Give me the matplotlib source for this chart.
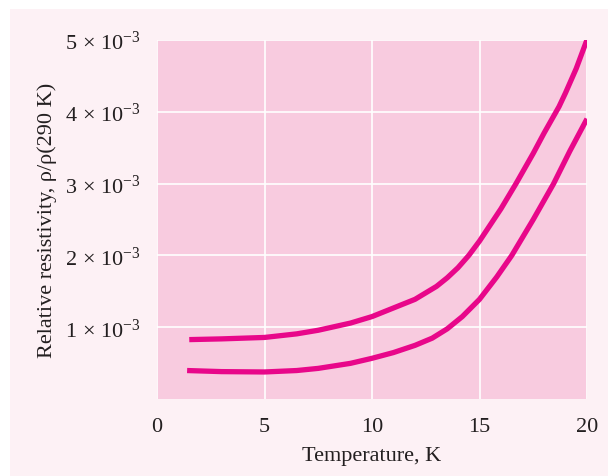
import matplotlib
matplotlib.use('Agg')
import matplotlib.pyplot as plt
from matplotlib.patches import Rectangle

plt.rcParams.update({'font.family': ['Liberation Serif', 'DejaVu Serif'],
                     'mathtext.fontset': 'custom',
                     'mathtext.rm': 'Liberation Serif',
                     'mathtext.it': 'Liberation Serif:italic',
                     'font.size': 16})

# temperature (K) and relative resistivity readings, two samples
temp_upper = [1.5, 3, 5, 6.5, 7.5, 9, 10, 11, 12, 13, 13.5, 14, 14.5, 15, 16, 16.7, 17.5, 18, 18.7, 19, 19.5, 20]
rho_upper = [0.83, 0.84, 0.86, 0.91, 0.96, 1.06, 1.15, 1.27, 1.39, 1.57, 1.69, 1.83, 2.0, 2.2, 2.65, 3.0, 3.42, 3.7, 4.07, 4.26, 4.6, 5.0]

temp_lower = [1.4, 3, 5, 6.5, 7.5, 9, 10, 11, 12, 12.8, 13.5, 14.2, 15, 15.8, 16.5, 17.5, 18.45, 19.2, 20]
rho_lower = [0.40, 0.385, 0.38, 0.40, 0.43, 0.50, 0.57, 0.65, 0.75, 0.85, 0.98, 1.15, 1.39, 1.70, 2.0, 2.5, 3.0, 3.45, 3.9]

xticks = [0, 5, 10, 15, 20]
yticks = [1, 2, 3, 4, 5]
ytick_labels = [r'$%d\,\times\,10^{-3}$' % v for v in yticks]

line_col = '#e8078a'
ax_bg = '#f8cbdf'
panel_bg = '#fdf1f5'
text_col = '#231f20'

fig = plt.figure(figsize=(6.08, 4.77), dpi=100, facecolor='white')
fig.patches.append(Rectangle((10/608, 0), 1, 1 - 10/477, transform=fig.transFigure,
                             facecolor=panel_bg, edgecolor='none', zorder=-10))

ax = fig.add_axes([157/608, 1 - 400.3/477, 430/608, 359.6/477])
ax.set_facecolor(ax_bg)
for s in ax.spines.values():
    s.set_visible(False)

ax.plot(temp_upper, [r*1e-3 for r in rho_upper], c=line_col, lw=3.8, solid_capstyle='butt', solid_joinstyle='round', zorder=3)
ax.plot(temp_lower, [r*1e-3 for r in rho_lower], c=line_col, lw=3.8, solid_capstyle='butt', solid_joinstyle='round', zorder=3)

ax.set_xlim(0, 20)
ax.set_ylim(0, 5e-3)
ax.set_xticks(xticks)
ax.set_yticks([v*1e-3 for v in yticks])
ax.set_yticklabels(ytick_labels)
ax.tick_params(length=0, colors=text_col, labelsize=16)
ax.tick_params(axis='x', pad=13)
ax.tick_params(axis='y', pad=11.5)
ax.grid(True, color='white', lw=1.2)
ax.set_axisbelow(True)

ax.set_xlabel('Temperature, K', color=text_col, fontsize=16, labelpad=7)
ax.set_ylabel('Relative resistivity, ρ/ρ(290 K)', color=text_col, fontsize=16, labelpad=6)

fig.savefig('out.png', dpi=100)
